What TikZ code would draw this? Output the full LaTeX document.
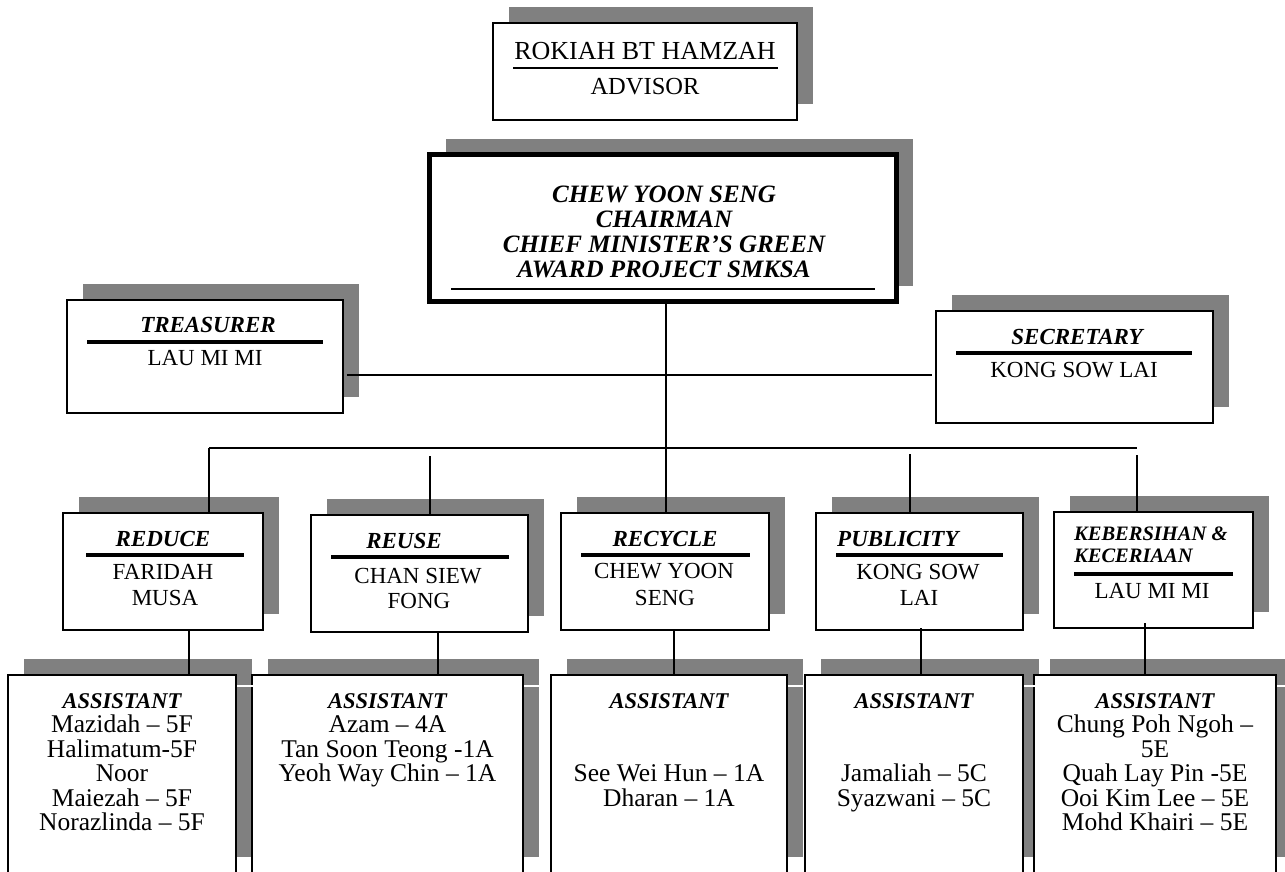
\documentclass[tikz,border=0pt]{standalone}
\usepackage{fontspec}
\setmainfont{Liberation Serif}
\usetikzlibrary{shadows}
\definecolor{shgray}{HTML}{808080}
\newcommand\sz[1]{\fontsize{#1}{#1}\selectfont}
\tikzset{
  box/.style={draw, line width=1.8pt, fill=white, inner sep=0pt, outer sep=0pt,
    drop shadow={shadow xshift=16pt, shadow yshift=16pt, fill=shgray, opacity=1}},
  wire/.style={line width=1.6pt},
  bar/.style={line width=4pt},
  hd/.style={font=\sz{23}\bfseries\itshape, anchor=base, inner sep=0pt},
  hdl/.style={hd, anchor=base west},
  nm/.style={font=\sz{23}, anchor=base, inner sep=0pt},
  ah/.style={font=\sz{22.5}\bfseries\itshape, anchor=base, inner sep=0pt},
  an/.style={font=\sz{25.5}, anchor=base, inner sep=0pt},
  ch/.style={font=\sz{25}\bfseries\itshape, anchor=base, inner sep=0pt},
  gapline/.style={white, line width=1.4pt}
}
\begin{document}
\begin{tikzpicture}[x=1pt, y=-1pt]
\useasboundingbox (0,0) rectangle (1285,871);
\clip (0,0) rectangle (1285,871);

% ---------- boxes ----------
\node[box, minimum width=304, minimum height=97] (adv) at (645,71.5) {};
\node[box, line width=5.5pt, minimum width=467, minimum height=147] (chair) at (663,228) {};
\node[box, minimum width=276, minimum height=113] (treas) at (205,356.5) {};
\node[box, minimum width=277, minimum height=112] (sec) at (1074.5,367) {};

\node[box, minimum width=200, minimum height=117] (red) at (163,571.5) {};
\node[box, minimum width=217, minimum height=117] (reu) at (419.5,573.5) {};
\node[box, minimum width=208, minimum height=117] (rec) at (665,571.5) {};
\node[box, minimum width=207, minimum height=117] (pub) at (919.5,571.5) {};
\node[box, minimum width=199, minimum height=116] (keb) at (1153.5,570) {};

\node[box, minimum width=228, minimum height=198] (as1) at (122,774) {};
\node[box, minimum width=271, minimum height=198] (as2) at (387.5,774) {};
\node[box, minimum width=236, minimum height=198] (as3) at (669,774) {};
\node[box, minimum width=218, minimum height=198] (as4) at (914,774) {};
\node[box, minimum width=242, minimum height=198] (as5) at (1155,774) {};

% thin white breaks in the shadows beside the assistant boxes
\foreach \b in {as1,as2,as3,as4,as5}
  \draw[gapline] ([xshift=1pt]\b.north east) ++(0,11) -- ++(16,0);

% ---------- advisor ----------
\node[font=\sz{26}, anchor=base, inner sep=0pt] (advA) at (645,59) {ROKIAH BT HAMZAH};
\draw[line width=2.6pt] (513,68) -- (778,68);
\node[font=\sz{24.5}, anchor=base, inner sep=0pt] (advB) at (645,94) {ADVISOR};

% ---------- chairman ----------
\node[ch] (chA) at (664,202) {CHEW YOON SENG};
\node[ch] (chB) at (664,227) {CHAIRMAN};
\node[ch] (chC) at (664,252) {CHIEF MINISTER’S GREEN};
\node[ch] (chD) at (664,277) {AWARD PROJECT SMKSA};
\draw[line width=1.5pt] (451,289) -- (875,289);

% ---------- treasurer / secretary ----------
\node[hd] (trA) at (208,332) {TREASURER};
\draw[bar] (87,342) -- (323,342);
\node[nm] (trB) at (205,365) {LAU MI MI};

\node[hd] (seA) at (1077,344) {SECRETARY};
\draw[bar] (956,353) -- (1192,353);
\node[nm] (seB) at (1074,377) {KONG SOW LAI};

% ---------- committee heads ----------
\node[hd] (reA) at (163,546) {REDUCE};
\draw[bar] (86,555) -- (244,555);
\node[nm] (reB) at (163,579) {FARIDAH};
\node[nm] (reC) at (165,605) {MUSA};

\node[hd] (ruA) at (404,548) {REUSE};
\draw[bar] (331,557) -- (509,557);
\node[nm] (ruB) at (418,583) {CHAN SIEW};
\node[nm] (ruC) at (419,608) {FONG};

\node[hd] (rcA) at (665,546) {RECYCLE};
\draw[bar] (581,555) -- (750,555);
\node[nm] (rcB) at (664,578) {CHEW YOON};
\node[nm] (rcC) at (665,605) {SENG};

\node[hdl] (puA) at (837,546) {PUBLICITY};
\draw[bar] (836,555) -- (1003,555);
\node[nm] (puB) at (918,579) {KONG SOW};
\node[nm] (puC) at (919,605) {LAI};

\node[hdl, font=\sz{20.5}\bfseries\itshape] (kbA) at (1074,540) {KEBERSIHAN \&};
\node[hdl, font=\sz{20.5}\bfseries\itshape] (kbB) at (1074,562) {KECERIAAN};
\draw[bar] (1074,574) -- (1233,574);
\node[nm] (kbC) at (1152,598) {LAU MI MI};

% ---------- assistants ----------
\node[ah] (a1h) at (122,708) {ASSISTANT};
\node[an] (a1a) at (122,732.5) {Mazidah – 5F};
\node[an] (a1b) at (122,757) {Halimatum-5F};
\node[an] (a1c) at (122,781.5) {Noor};
\node[an] (a1d) at (122,806) {Maiezah – 5F};
\node[an] (a1e) at (122,830.5) {Norazlinda – 5F};

\node[ah] (a2h) at (387.5,708) {ASSISTANT};
\node[an] (a2a) at (387.5,732.5) {Azam – 4A};
\node[an] (a2b) at (387.5,757) {Tan Soon Teong -1A};
\node[an] (a2c) at (387.5,781.5) {Yeoh Way Chin – 1A};

\node[ah] (a3h) at (669,708) {ASSISTANT};
\node[an] (a3a) at (669,781.5) {See Wei Hun – 1A};
\node[an] (a3b) at (669,806) {Dharan – 1A};

\node[ah] (a4h) at (914,708) {ASSISTANT};
\node[an] (a4a) at (914,781.5) {Jamaliah – 5C};
\node[an] (a4b) at (914,806) {Syazwani – 5C};

\node[ah] (a5h) at (1155,708) {ASSISTANT};
\node[an] (a5a) at (1155,732.5) {Chung Poh Ngoh –};
\node[an] (a5b) at (1155,757) {5E};
\node[an] (a5c) at (1155,781.5) {Quah Lay Pin -5E};
\node[an] (a5d) at (1155,806) {Ooi Kim Lee – 5E};
\node[an] (a5e) at (1155,830.5) {Mohd Khairi – 5E};

% ---------- connectors ----------
\coordinate (tsY) at (0,375);
\coordinate (c0) at (666,448);
\coordinate (busL) at (209,448);
\coordinate (busR) at (1137,448);
\coordinate (gReu) at (430,456);
\coordinate (gPub) at (910,454);
\coordinate (gKeb) at (1137,455);
\coordinate (dRed) at (189,630);
\coordinate (dReu) at (438,632);
\coordinate (dRec) at (674,630);
\coordinate (dPub) at (921,628);
\coordinate (dKeb) at (1145,623);

\draw[wire, shorten <=4pt, shorten >=4pt] (treas.east |- tsY) -- (sec.west |- tsY);
\draw[wire] (chair.south -| c0) -- (rec.north -| c0);
\draw[wire] (busL) -- (busR);
\draw[wire] (busL) -- (red.north -| busL);
\draw[wire] (gReu) -- (reu.north -| gReu);
\draw[wire] (gPub) -- (pub.north -| gPub);
\draw[wire] (gKeb) -- (keb.north -| gKeb);

\draw[wire] (dRed) -- (as1.north -| dRed);
\draw[wire] (dReu) -- (as2.north -| dReu);
\draw[wire] (dRec) -- (as3.north -| dRec);
\draw[wire] (dPub) -- (as4.north -| dPub);
\draw[wire] (dKeb) -- (as5.north -| dKeb);
\end{tikzpicture}
\end{document}
